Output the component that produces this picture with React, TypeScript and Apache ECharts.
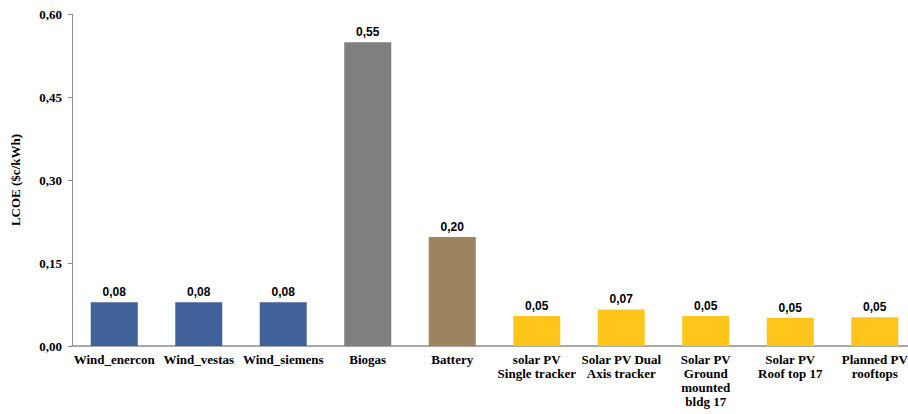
import React, { useEffect, useRef } from "react";
import * as echarts from "echarts";

const categories = [
  "Wind_enercon",
  "Wind_vestas",
  "Wind_siemens",
  "Biogas",
  "Battery",
  "solar PV\nSingle tracker",
  "Solar PV Dual\nAxis tracker",
  "Solar PV\nGround\nmounted\nbldg 17",
  "Solar PV\nRoof top 17",
  "Planned PV\nrooftops",
];

const lcoeValues = [0.079, 0.079, 0.079, 0.549, 0.197, 0.054, 0.066, 0.054, 0.051, 0.052];

const barColors = [
  "#41619A",
  "#41619A",
  "#41619A",
  "#7F7F7F",
  "#9C8461",
  "#FFC51A",
  "#FFC51A",
  "#FFC51A",
  "#FFC51A",
  "#FFC51A",
];

const yTicks = { min: 0, max: 0.6, interval: 0.15 };

const SERIF = "'Liberation Serif', 'Times New Roman', serif";
const SANS = "'Liberation Sans', Arial, sans-serif";

const fmt = (v: number) => v.toFixed(2).replace(".", ",");

export default function App() {
  const ref = useRef<HTMLDivElement>(null);

  useEffect(() => {
    if (!ref.current) return;
    const chart = echarts.init(ref.current, null, { renderer: "svg" });
    chart.setOption({
      animation: false,
      backgroundColor: "#ffffff",
      // the category axis runs slightly past the right edge of the canvas
      grid: { left: 72, right: -9, top: 14, bottom: 68, outerBoundsMode: "none", containLabel: false },
      xAxis: {
        type: "category",
        data: categories,
        axisLine: { lineStyle: { color: "#8C8C8C", width: 1.5 } },
        axisTick: { show: false },
        axisLabel: {
          interval: 0,
          margin: 6,
          fontFamily: SERIF,
          fontWeight: "bold",
          fontSize: 13,
          lineHeight: 14,
          color: "#000",
        },
      },
      yAxis: {
        type: "value",
        min: yTicks.min,
        max: yTicks.max,
        interval: yTicks.interval,
        name: "LCOE ($c/kWh)",
        nameLocation: "middle",
        nameGap: 50,
        nameTextStyle: {
          fontFamily: SERIF,
          fontWeight: "bold",
          fontSize: 13,
          color: "#000",
        },
        axisLine: { show: true, lineStyle: { color: "#8C8C8C", width: 1 } },
        axisTick: { show: true, length: 4, lineStyle: { color: "#8C8C8C" } },
        splitLine: { show: false },
        axisLabel: {
          formatter: (v: number) => fmt(v),
          margin: 10,
          fontFamily: SERIF,
          fontWeight: "bold",
          fontSize: 13,
          color: "#000",
        },
      },
      series: [
        {
          type: "bar",
          barWidth: 47,
          data: lcoeValues.map((v, i) => ({
            value: v,
            itemStyle: { color: barColors[i] },
          })),
          label: {
            show: true,
            position: "top",
            distance: 4,
            formatter: (p: any) => fmt(p.value),
            fontFamily: SANS,
            fontWeight: "bold",
            fontSize: 12,
            color: "#000",
          },
        },
      ],
    });
    return () => chart.dispose();
  }, []);

  return (
    <div
      ref={ref}
      style={{ position: "absolute", left: 0, top: 0, width: 908, height: 414 }}
    />
  );
}
